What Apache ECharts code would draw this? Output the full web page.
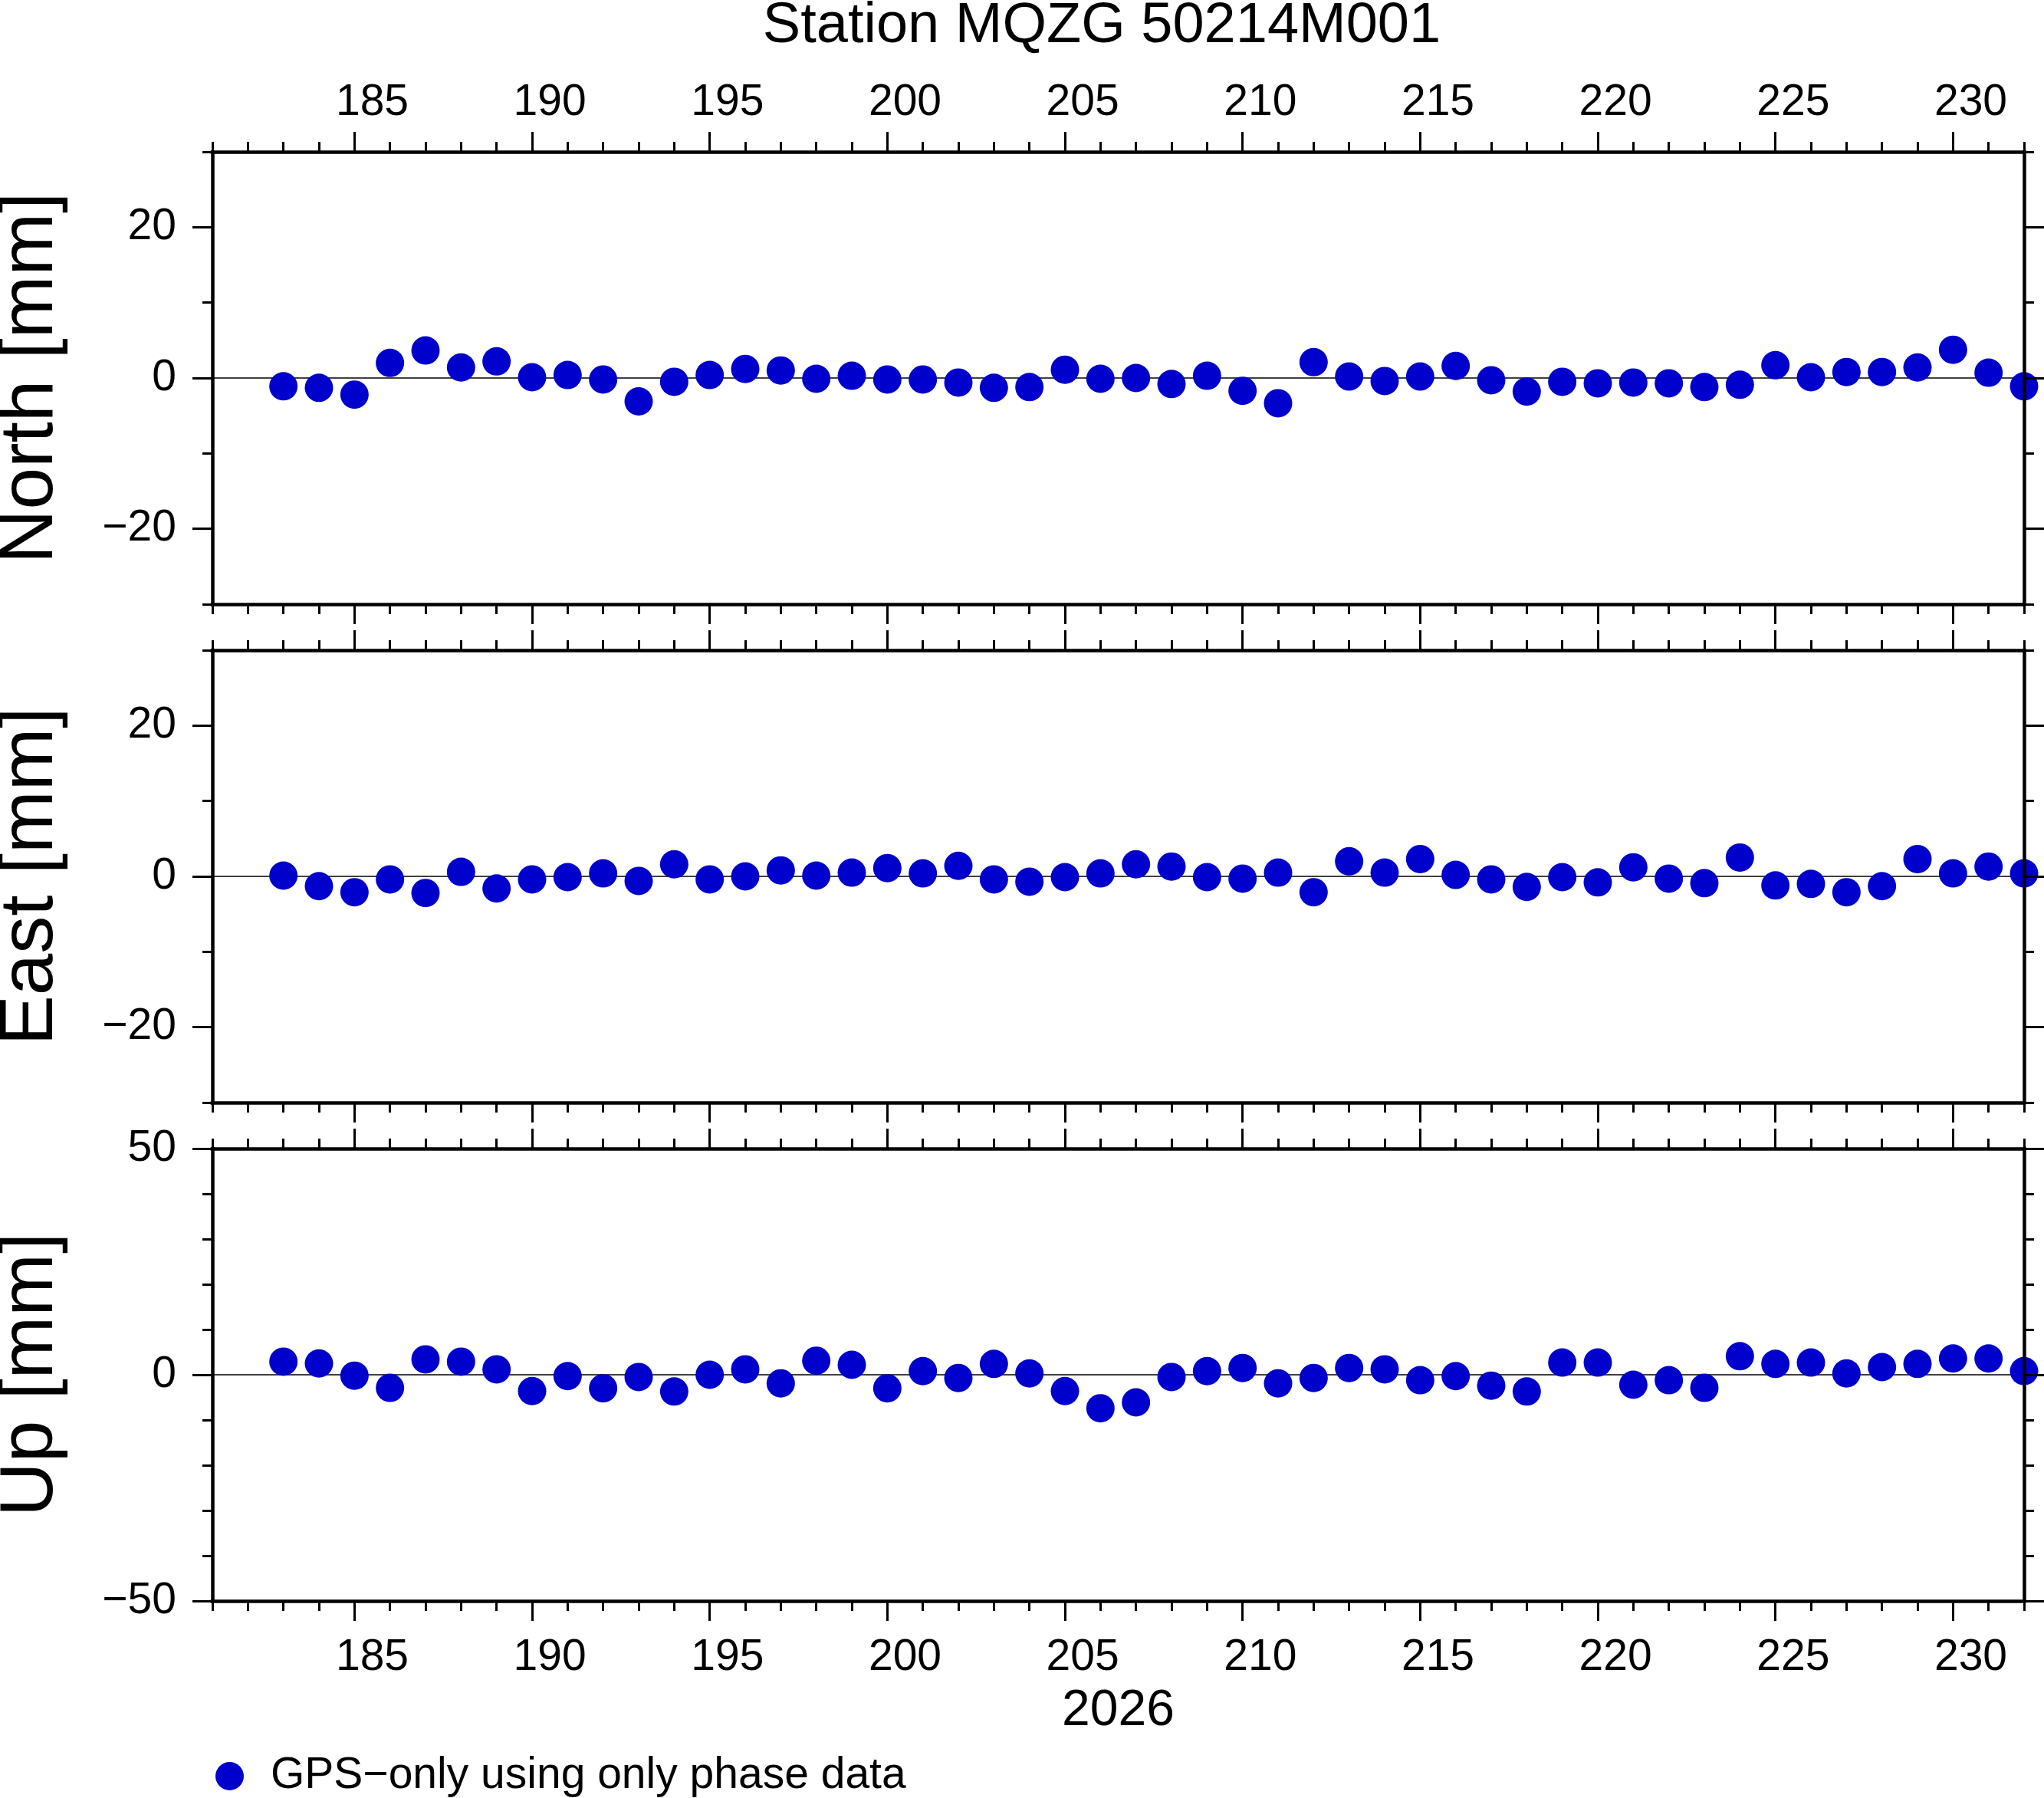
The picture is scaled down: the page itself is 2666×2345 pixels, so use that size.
<!DOCTYPE html>
<html>
<head>
<meta charset="utf-8">
<title>Station MQZG 50214M001</title>
<script src="https://cdn.jsdelivr.net/npm/echarts@6/dist/echarts.min.js"></script>
<style>
html, body { margin: 0; padding: 0; background: #fff; }
#box { width: 2666px; height: 2345px; }
</style>
</head>
<body>
<div id="box"></div>
<script>
// day of year 2026
var days = [183, 184, 185, 186, 187, 188, 189, 190, 191, 192, 193, 194, 195, 196, 197, 198, 199,
	200, 201, 202, 203, 204, 205, 206, 207, 208, 209, 210, 211, 212, 213, 214, 215, 216,
	217, 218, 219, 220, 221, 222, 223, 224, 225, 226, 227, 228, 229, 230, 231, 232];

// residuals [mm]
var northList = [-1.1, -1.3, -2.2, 2.0, 3.65, 1.4, 2.2, 0.1, 0.4, -0.2, -3.1, -0.5, 0.4, 1.2, 1.0, -0.1, 0.3,
	-0.2, -0.2, -0.6, -1.3, -1.2, 1.1, -0.1, 0.0, -0.8, 0.3, -1.7, -3.35, 2.1, 0.2, -0.4, 0.2, 1.6,
	-0.3, -1.8, -0.5, -0.7, -0.6, -0.7, -1.2, -0.9, 1.7, 0.1, 0.8, 0.8, 1.4, 3.75, 0.7, -1.1];
var eastList = [0.1, -1.3, -2.1, -0.4, -2.2, 0.6, -1.6, -0.4, -0.1, 0.4, -0.6, 1.6, -0.4, 0.0, 0.8, 0.1, 0.5,
	1.1, 0.4, 1.4, -0.4, -0.7, -0.1, 0.4, 1.6, 1.3, -0.1, -0.3, 0.5, -2.1, 2.0, 0.5, 2.3, 0.2,
	-0.4, -1.4, -0.1, -0.8, 1.2, -0.3, -0.9, 2.5, -1.2, -1.0, -2.1, -1.3, 2.3, 0.4, 1.3, 0.4];
var upList = [2.9, 2.5, -0.2, -2.9, 3.4, 2.9, 1.2, -3.6, -0.3, -3.0, -0.5, -3.7, 0.0, 1.2, -1.9, 3.1, 2.2,
	-3.0, 0.8, -0.7, 2.4, 0.3, -3.6, -7.4, -6.1, -0.5, 0.8, 1.5, -1.9, -0.7, 1.5, 1.2, -1.2, -0.3,
	-2.4, -3.7, 2.7, 2.7, -2.2, -1.2, -2.9, 4.1, 2.4, 2.7, 0.3, 1.7, 2.4, 3.6, 3.6, 0.8];

var titleText = 'Station MQZG 50214M001';
var yearText = '2026';
var seriesName = 'GPS\u2212only using only phase data';
var panelNames = ['North [mm]', 'East [mm]', 'Up [mm]'];
var yMinList = [-30, -30, -50];
var yMaxList = [30, 30, 50];
var yMajorList = [[-20, 0, 20], [-20, 0, 20], [-50, 0, 50]];
var yMinorList = [[-30, -10, 10, 30], [-30, -10, 10, 30], [-40, -30, -20, -10, 10, 20, 30, 40]];
var xMajor = [185, 190, 195, 200, 205, 210, 215, 220, 225, 230];
var xLabelPos = [185.5, 190.5, 195.5, 200.5, 205.5, 210.5, 215.5, 220.5, 225.5, 230.5];
var xMin = 181, xMax = 232;

var valueLists = [northList, eastList, upList];

var xMinor = [];
for (var d = xMin; d <= xMax; d++) xMinor.push(d);

var FONT = '"Liberation Sans", Helvetica, Arial, sans-serif';
var BLUE = '#0000cc';

function minusFmt(v) { return String(v).replace('-', '\u2212'); }

var gridList = [], xAxisList = [], yAxisList = [], seriesList = [];

function lineOpt(show) {
	return { show: show, onZero: false, lineStyle: { color: '#000', width: 4.5, cap: 'square' } };
}
function tickOpt(values, len) {
	return { show: true, inside: false, customValues: values, length: len, lineStyle: { color: '#000', width: 3 } };
}
function xLabel(show, margin) {
	return {
		show: show, customValues: xLabelPos, margin: margin,
		formatter: function (v) { return String(Math.floor(v)); },
		fontSize: 57, color: '#000', fontFamily: FONT
	};
}
function gridRect(t) {
	return { left: 277, width: 2363, top: t, height: 590, containLabel: false, outerBoundsMode: 'none' };
}

for (var i = 0; i < 3; i++) {
	var panelTop = 198 + 650 * i;
	// grid with frame, major ticks and labels
	var g = gridList.length;
	gridList.push(gridRect(panelTop));
	var xb = xAxisList.length;
	xAxisList.push({
		gridIndex: g, type: 'value', position: 'bottom', min: xMin, max: xMax, z: 3,
		axisLine: lineOpt(true), axisTick: tickOpt(xMajor, 26), axisLabel: xLabel(i == 2, 46),
		splitLine: { show: false },
		name: i == 2 ? yearText : '', nameLocation: 'middle', nameGap: 111,
		nameTextStyle: { fontSize: 66, color: '#000', fontFamily: FONT }
	});
	xAxisList.push({
		gridIndex: g, type: 'value', position: 'top', min: xMin, max: xMax, z: 3,
		axisLine: lineOpt(true), axisTick: tickOpt(xMajor, 26), axisLabel: xLabel(i == 0, 35),
		splitLine: { show: false }
	});
	var yl = yAxisList.length;
	yAxisList.push({
		gridIndex: g, type: 'value', position: 'left', min: yMinList[i], max: yMaxList[i], z: 3,
		axisLine: lineOpt(true), axisTick: tickOpt(yMajorList[i], 26),
		axisLabel: { customValues: yMajorList[i], margin: 47, formatter: minusFmt, fontSize: 57, color: '#000', fontFamily: FONT },
		splitLine: { show: false },
		name: panelNames[i], nameLocation: 'middle', nameGap: 187, nameRotate: 90,
		nameTextStyle: { fontSize: 98, color: '#000', fontFamily: FONT }
	});
	yAxisList.push({
		gridIndex: g, type: 'value', position: 'right', min: yMinList[i], max: yMaxList[i], z: 3,
		axisLine: lineOpt(true), axisTick: tickOpt(yMajorList[i], 26), axisLabel: { show: false },
		splitLine: { show: false }
	});

	// twin grid for the short ticks
	var g2 = gridList.length;
	gridList.push(gridRect(panelTop));
	xAxisList.push({ gridIndex: g2, type: 'value', position: 'bottom', min: xMin, max: xMax,
		axisLine: lineOpt(false), axisTick: tickOpt(xMinor, 13), axisLabel: { show: false }, splitLine: { show: false } });
	xAxisList.push({ gridIndex: g2, type: 'value', position: 'top', min: xMin, max: xMax,
		axisLine: lineOpt(false), axisTick: tickOpt(xMinor, 13), axisLabel: { show: false }, splitLine: { show: false } });
	yAxisList.push({ gridIndex: g2, type: 'value', position: 'left', min: yMinList[i], max: yMaxList[i],
		axisLine: lineOpt(false), axisTick: tickOpt(yMinorList[i], 13), axisLabel: { show: false }, splitLine: { show: false } });
	yAxisList.push({ gridIndex: g2, type: 'value', position: 'right', min: yMinList[i], max: yMaxList[i],
		axisLine: lineOpt(false), axisTick: tickOpt(yMinorList[i], 13), axisLabel: { show: false }, splitLine: { show: false } });

	var vals = valueLists[i];
	var pts = [];
	for (var k = 0; k < days.length; k++) pts.push([days[k], vals[k]]);
	seriesList.push({
		name: seriesName, type: 'scatter', xAxisIndex: xb, yAxisIndex: yl,
		data: pts, symbol: 'circle', symbolSize: 37, clip: false,
		itemStyle: { color: BLUE, opacity: 1 },
		markLine: {
			silent: true, z: 1, symbol: ['none', 'none'], label: { show: false },
			lineStyle: { color: '#000', width: 1.5, type: 'solid', opacity: 1 },
			data: [{ yAxis: 0 }]
		}
	});
}

var myChart = echarts.init(document.getElementById('box'));
var option = {
	animation: false,
	backgroundColor: '#fff',
	title: {
		text: titleText, left: 1437, textAlign: 'center', top: -2, padding: 0,
		textStyle: { fontSize: 74, fontWeight: 'normal', color: '#000', fontFamily: FONT }
	},
	legend: {
		data: [seriesName], left: 276, top: 2283, icon: 'circle',
		itemWidth: 37, itemHeight: 37,
		itemStyle: { opacity: 1 },
		textStyle: { fontSize: 57, color: '#000', fontFamily: FONT, padding: [0, 0, 0, 30] }
	},
	grid: gridList,
	xAxis: xAxisList,
	yAxis: yAxisList,
	series: seriesList
};
myChart.setOption(option);
</script>
</body>
</html>
